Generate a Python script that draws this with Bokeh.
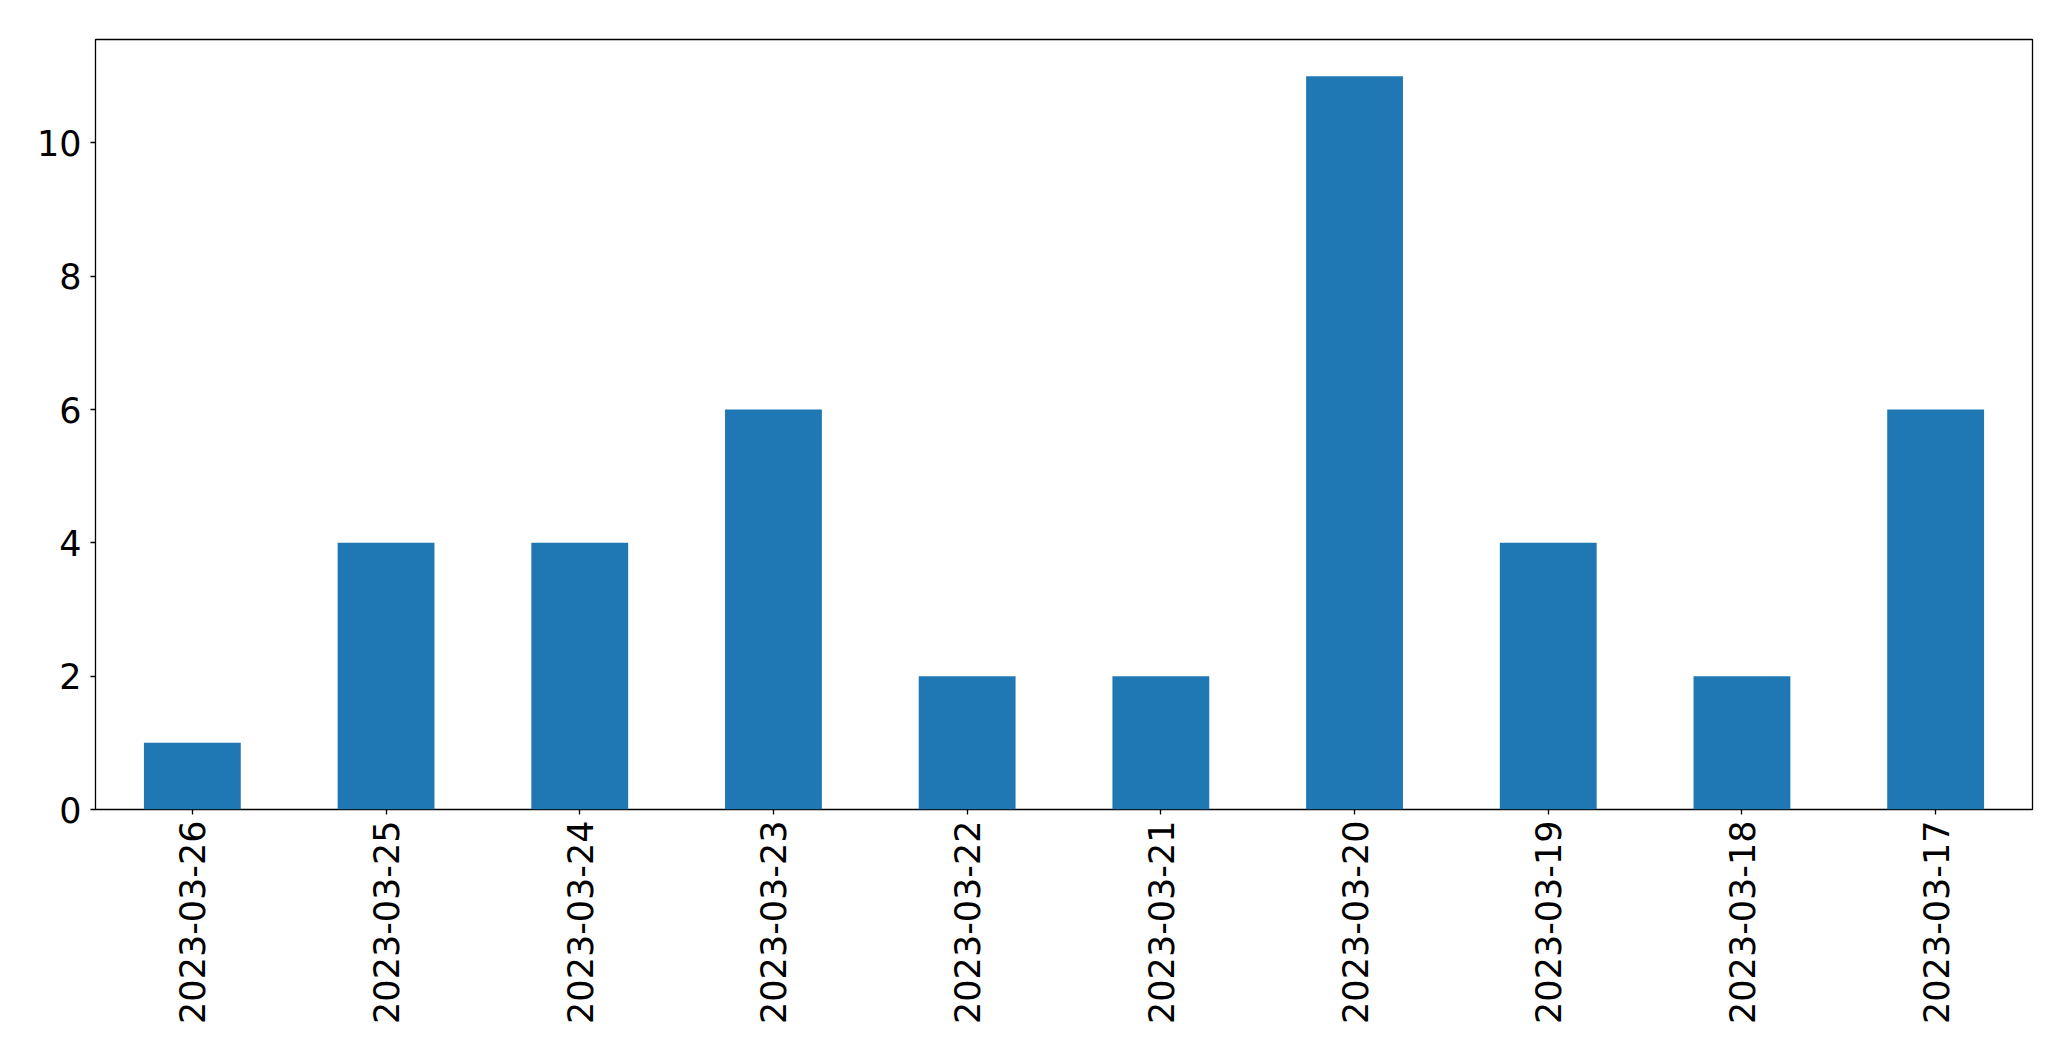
from bokeh.plotting import figure
from bokeh.models import FactorRange, Range1d, ColumnDataSource
from bokeh.embed import file_html
from bokeh.resources import INLINE
import math

dates = ["2023-03-26", "2023-03-25", "2023-03-24", "2023-03-23", "2023-03-22",
         "2023-03-21", "2023-03-20", "2023-03-19", "2023-03-18", "2023-03-17"]
counts = [1, 4, 4, 6, 2, 2, 11, 4, 2, 6]
y_ticks = [0, 2, 4, 6, 8, 10]

src = ColumnDataSource(dict(x=dates, top=counts))

p = figure(x_range=FactorRange(*dates, range_padding=0),
           y_range=Range1d(0, max(counts) * 1.05),
           frame_width=1937, frame_height=770,
           min_border_left=95, min_border_right=31,
           min_border_top=39, min_border_bottom=236,
           output_backend="svg", toolbar_location=None)

p.vbar(x="x", top="top", width=0.5, source=src, fill_color="#1f77b4", line_color=None)

p.xgrid.visible = False
p.ygrid.visible = False
p.outline_line_color = "black"
p.outline_line_width = 1.3
p.outline_line_alpha = 1.0

p.yaxis.ticker = y_ticks
for ax in (p.xaxis[0], p.yaxis[0]):
    ax.axis_line_color = None
    ax.major_tick_line_color = "black"
    ax.major_tick_line_width = 1.3
    ax.major_tick_out = 5
    ax.major_tick_in = 0
    ax.minor_tick_line_color = None
    ax.major_label_text_font = "DejaVu Sans"
    ax.major_label_text_font_size = "35px"
    ax.major_label_text_color = "black"

p.yaxis.major_label_standoff = 9
p.xaxis.major_label_standoff = 6
p.xaxis.major_label_orientation = math.pi / 2

open("out.html", "w").write(file_html(p, INLINE))
